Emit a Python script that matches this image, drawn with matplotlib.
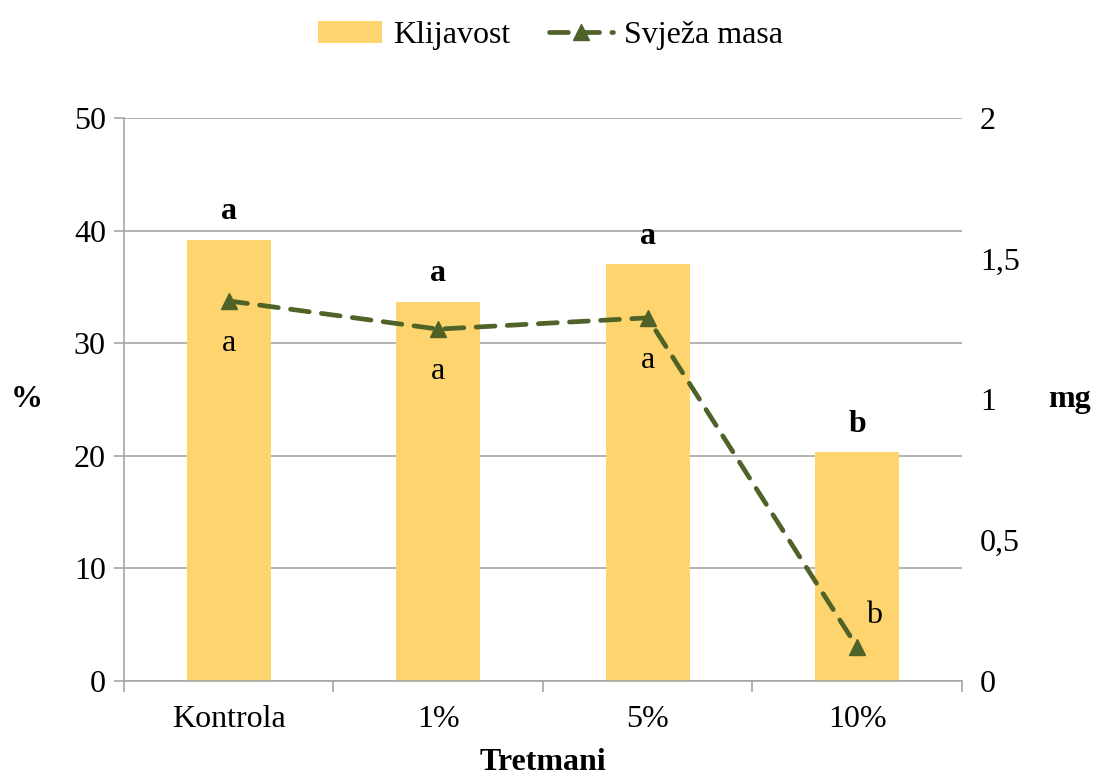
import matplotlib
matplotlib.use("Agg")
import matplotlib.pyplot as plt
import numpy as np

# Data
categories = ["Kontrola", "1%", "5%", "10%"]
klijavost = [39.2, 33.7, 37.0, 20.3]          # %, left axis
svjeza_masa = [1.35, 1.25, 1.29, 0.12]         # mg, right axis
bar_letters = ["a", "a", "a", "b"]
line_letters = ["a", "a", "a", "b"]

bar_color = "#FDD46E"
line_color = "#4F6228"
grid_color = "#A6A6A6"
FS = 23

plt.rcParams["font.family"] = ["Liberation Serif", "DejaVu Serif"]

fig = plt.figure(figsize=(11.01, 7.76), dpi=100)
ax = fig.add_axes([0.1126, 0.1224, 0.7611, 0.7256])
ax2 = ax.twinx()

x = np.arange(len(categories))
ax.bar(x, klijavost, width=0.4, color=bar_color, label="Klijavost", zorder=2)
ax.set_ylim(0, 50)
ax.set_xlim(-0.5, len(categories) - 0.5)
ax.set_yticks(np.arange(0, 51, 10))
ax.grid(axis="y", color=grid_color, linewidth=1.2, zorder=0)
ax.set_axisbelow(True)

for s in ["top", "right"]:
    ax.spines[s].set_visible(False)
for s in ["top", "right", "left", "bottom"]:
    ax2.spines[s].set_visible(False)
ax.spines["left"].set_color(grid_color)
ax.spines["bottom"].set_color(grid_color)
ax.spines["left"].set_linewidth(1.2)
ax.spines["bottom"].set_linewidth(1.2)

# category boundary ticks on x axis
ax.set_xticks(np.arange(-0.5, len(categories), 1.0), minor=False)
ax.set_xticklabels([""] * (len(categories) + 1))
ax.set_xticks(x, minor=True)
ax.set_xticklabels(categories, minor=True, fontsize=FS)
ax.tick_params(axis="x", which="major", length=8, color=grid_color, width=1.2)
ax.tick_params(axis="x", which="minor", length=0, pad=17)
ax.tick_params(axis="y", length=7, color=grid_color, width=1.2, labelsize=FS, pad=6)

ax.set_xlabel("Tretmani", fontsize=FS, fontweight="bold", labelpad=10)
ax.set_ylabel("%", fontsize=FS, fontweight="bold", rotation=0, labelpad=34, va="center")

line, = ax2.plot(x, svjeza_masa, color=line_color, linestyle=(0, (4, 2.6)), linewidth=3.4,
                 dash_capstyle="round", marker="^", markersize=12, label="Svježa masa", zorder=3)
ax2.set_ylim(0, 2)
ax2.set_yticks([0, 0.5, 1, 1.5, 2])
ax2.set_yticklabels(["0", "0,5", "1", "1,5", "2"])
ax2.tick_params(axis="y", length=0, labelsize=FS, pad=13)
ax2.set_ylabel("mg", fontsize=FS, fontweight="bold", rotation=0, labelpad=36, va="center")

# significance letters
for xi, val, let in zip(x, klijavost, bar_letters):
    ax.text(xi, val + 1.2, let, ha="center", va="bottom", fontsize=FS, fontweight="bold")
for xi, val, let in zip(x[:3], svjeza_masa[:3], line_letters[:3]):
    ax2.text(xi, val - 0.10, let, ha="center", va="top", fontsize=FS)
ax2.text(x[3] + 0.08, svjeza_masa[3] + 0.06, line_letters[3], ha="center", va="bottom", fontsize=FS)

handles = [ax.patches[0], line]
fig.legend(handles, ["Klijavost", "Svježa masa"], loc="upper center", bbox_to_anchor=(0.5, 1.01),
           ncol=2, frameon=False, fontsize=FS, handlelength=2.0, handletextpad=0.35,
           columnspacing=1.2)

fig.savefig("out.png", dpi=100)
